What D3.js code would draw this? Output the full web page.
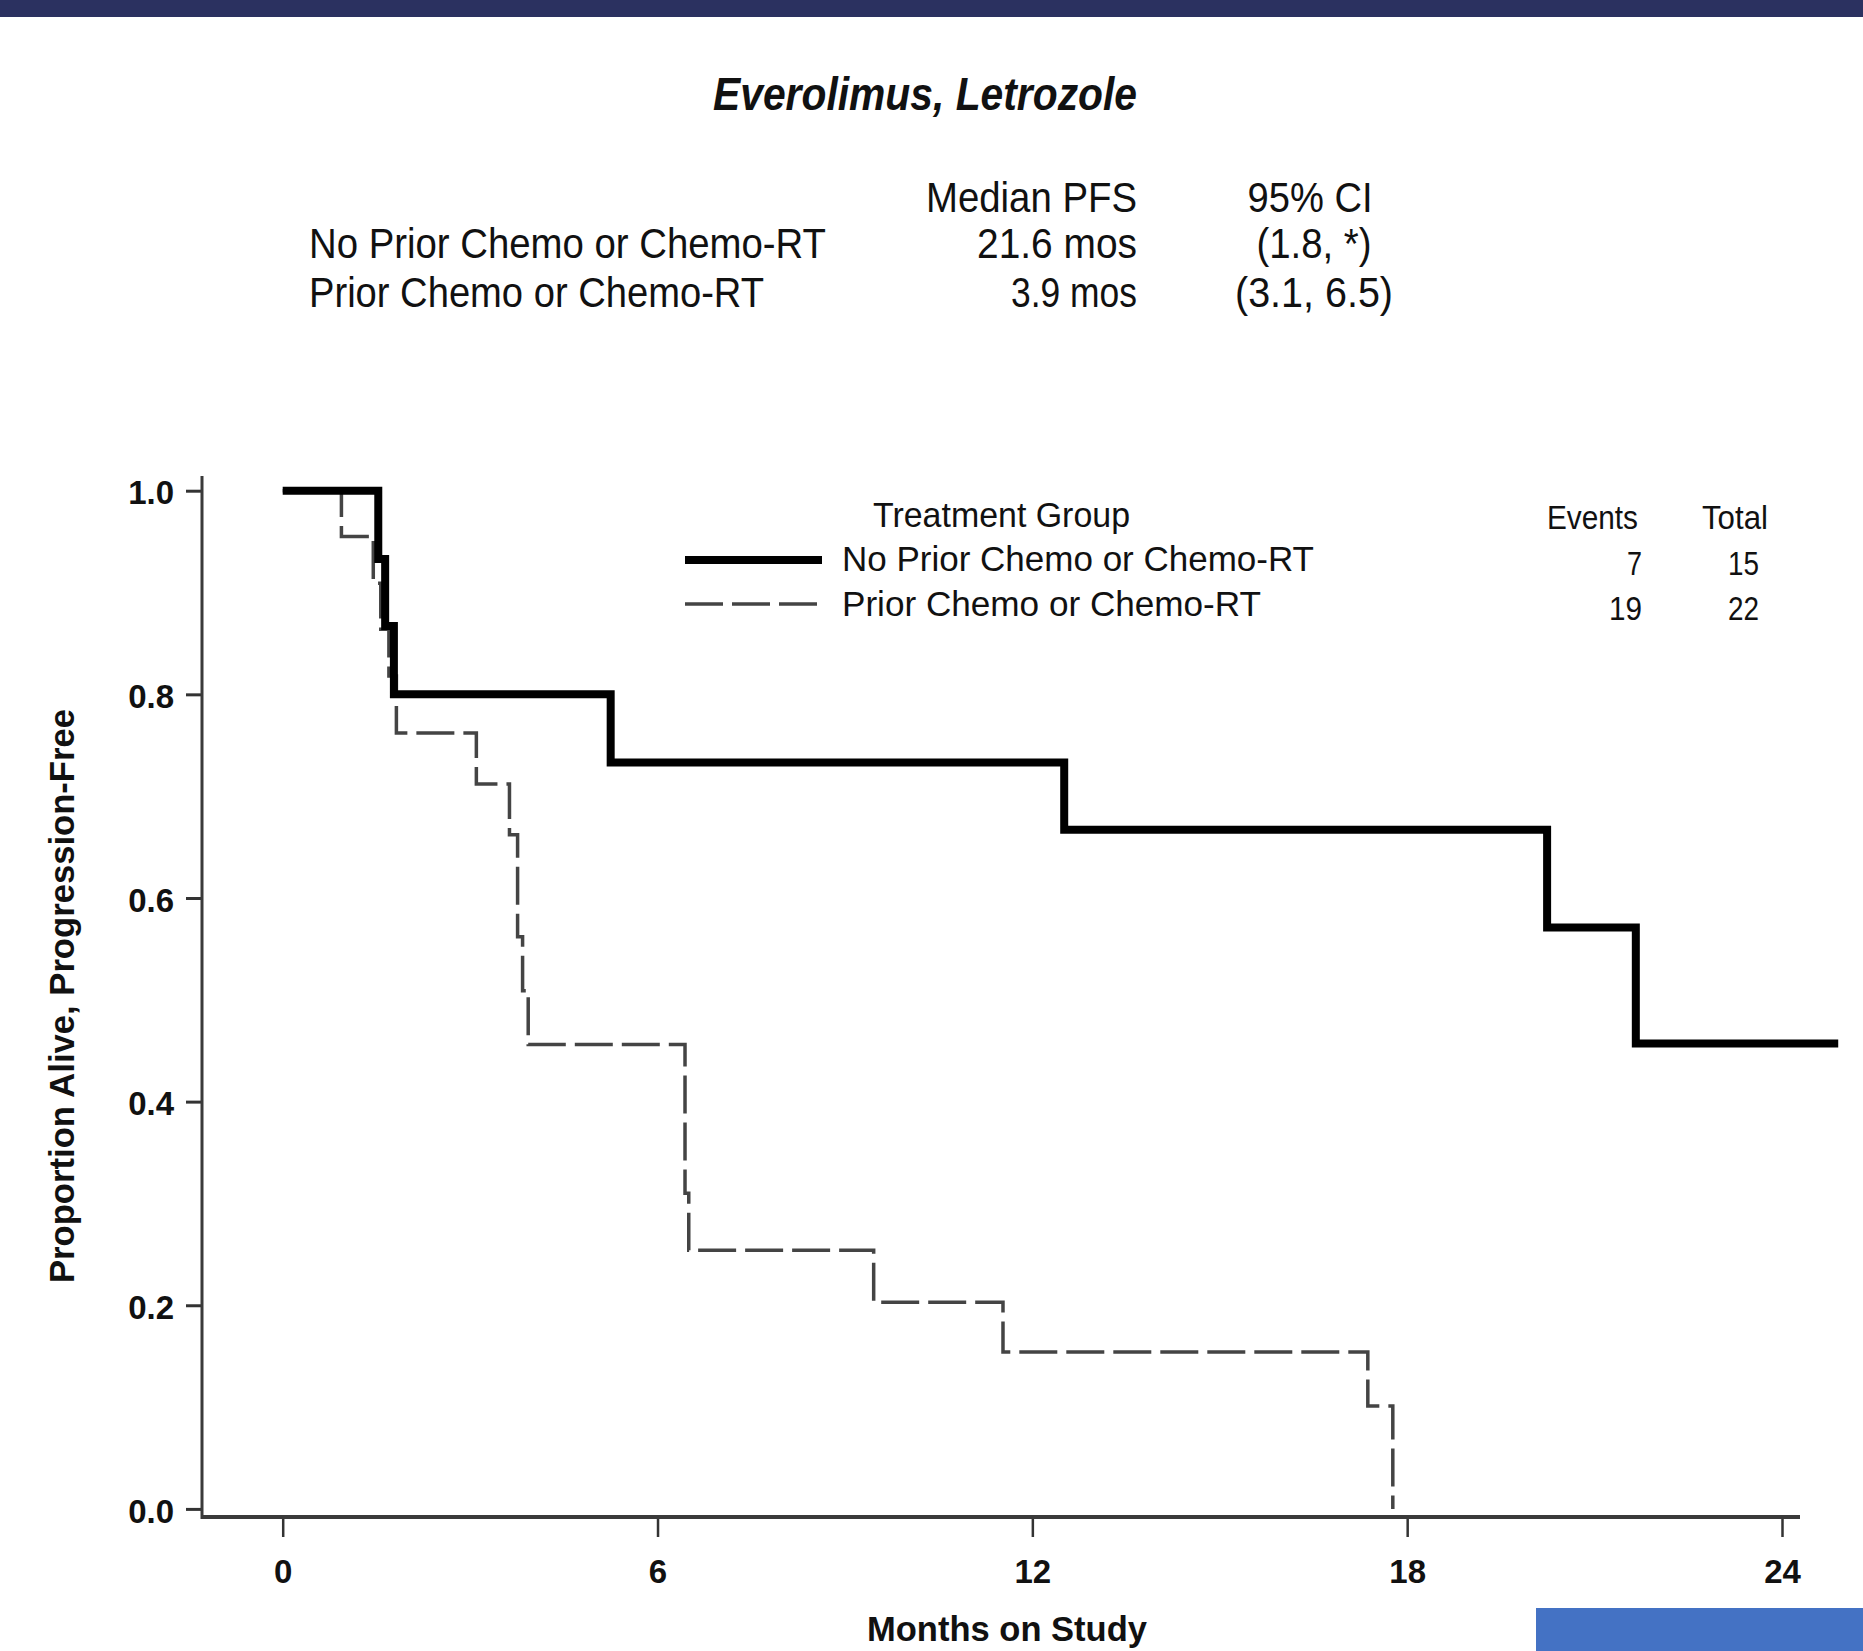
<!DOCTYPE html>
<html>
<head>
<meta charset="utf-8">
<script src="https://cdn.jsdelivr.net/npm/d3@7"></script>
<style>
  html, body { margin: 0; padding: 0; background: #ffffff; }
  svg { display: block; font-family: "Liberation Sans", Arial, sans-serif; }
</style>
</head>
<body>
<svg id="chart" width="1863" height="1651"></svg>
<script>
// ---------------- DATA ----------------
const chartTitle = "Everolimus, Letrozole";
const groups = ["No Prior Chemo or Chemo-RT", "Prior Chemo or Chemo-RT"];
const medianPFS = ["21.6 mos", "3.9 mos"];
const ci95 = ["(1.8, *)", "(3.1, 6.5)"];
const events = [7, 19];
const totals = [15, 22];

// Kaplan-Meier step curves (months, proportion alive & progression-free)
const noPriorMonths = [0, 1.53, 1.64, 1.78, 5.25, 12.51, 20.24, 21.66, 24.9];
const noPriorSurv   = [1.0, 0.933, 0.867, 0.800, 0.733, 0.667, 0.571, 0.457, 0.457];
const priorMonths = [0, 0.94, 1.45, 1.57, 1.70, 1.82, 3.10, 3.63, 3.76, 3.84, 3.93, 6.44, 6.50, 9.46, 11.53, 17.37, 17.77];
const priorSurv   = [1.0, 0.955, 0.909, 0.864, 0.818, 0.762, 0.712, 0.662, 0.562, 0.509, 0.456, 0.310, 0.254, 0.203, 0.154, 0.101, 0.0];

const xTicks = [0, 6, 12, 18, 24];
const yTicks = [0.0, 0.2, 0.4, 0.6, 0.8, 1.0];
const xTitle = "Months on Study";
const yTitle = "Proportion Alive, Progression-Free";
const legendTitle = "Treatment Group";

// ---------------- LAYOUT ----------------
const svg = d3.select("#chart");
const FONT = '"Liberation Sans", Arial, sans-serif';

const x = d3.scaleLinear().domain([0, 24]).range([282.7, 1782]);
const y = d3.scaleLinear().domain([0, 1]).range([1508.9, 490.7]);
const axisX0 = 202, axisY0 = 1517;

function txt(str, xp, yp, opt) {
  const t = svg.append("text")
    .attr("x", xp).attr("y", yp)
    .attr("font-family", FONT)
    .attr("font-size", opt.size)
    .attr("font-weight", opt.weight || "normal")
    .attr("font-style", opt.style || "normal")
    .attr("text-anchor", opt.anchor || "start")
    .attr("fill", opt.fill || "#111")
    .text(str);
  if (opt.len) t.attr("textLength", opt.len).attr("lengthAdjust", "spacingAndGlyphs");
  return t;
}

// top banner
svg.append("rect").attr("x", 0).attr("y", 0).attr("width", 1863).attr("height", 17).attr("fill", "#2b3160");

// title
txt(chartTitle, 713, 110, {size: 47, weight: "bold", style: "italic", len: 424});

// summary table
txt("Median PFS", 1137, 212, {size: 43, anchor: "end", len: 211});
txt("95% CI", 1310, 212, {size: 43, anchor: "middle", len: 125});
const tableRows = [258, 307];
const tableLens = [517, 455];
const medLens = [160, 126];
const ciLens = [115, 158];
groups.forEach((g, i) => {
  txt(g, 309, tableRows[i], {size: 43, len: tableLens[i]});
  txt(medianPFS[i], 1137, tableRows[i], {size: 43, anchor: "end", len: medLens[i]});
  txt(ci95[i], 1314, tableRows[i], {size: 43, anchor: "middle", len: ciLens[i]});
});

// ---------------- AXES ----------------
const gx = svg.append("g").attr("transform", `translate(0,${axisY0})`)
  .call(d3.axisBottom(x).tickValues(xTicks).tickSize(20).tickPadding(23).tickFormat(d3.format("d")));
gx.select(".domain").remove();
gx.selectAll(".tick line").attr("stroke", "#333").attr("stroke-width", 2.5);
gx.selectAll(".tick text").attr("font-family", FONT).attr("font-size", 33).attr("font-weight", "bold").attr("fill", "#111");

const gy = svg.append("g").attr("transform", `translate(${axisX0},0)`)
  .call(d3.axisLeft(y).tickValues(yTicks).tickSize(16).tickPadding(12).tickFormat(d3.format(".1f")));
gy.select(".domain").remove();
gy.selectAll(".tick line").attr("stroke", "#333").attr("stroke-width", 3);
gy.selectAll(".tick text").attr("font-family", FONT).attr("font-size", 33).attr("font-weight", "bold").attr("fill", "#111").attr("dy", "0.4em");

// axis lines
svg.append("line").attr("x1", axisX0).attr("x2", axisX0).attr("y1", 476).attr("y2", axisY0 + 2)
  .attr("stroke", "#3a3a3a").attr("stroke-width", 3);
svg.append("line").attr("x1", axisX0).attr("x2", 1800).attr("y1", axisY0).attr("y2", axisY0)
  .attr("stroke", "#3a3a3a").attr("stroke-width", 4);

// axis titles
txt(xTitle, 1007, 1641, {size: 35, weight: "bold", anchor: "middle", len: 280});
svg.append("text")
  .attr("transform", `translate(74,996) rotate(-90)`)
  .attr("font-family", FONT).attr("font-size", 35).attr("font-weight", "bold")
  .attr("text-anchor", "middle").attr("fill", "#111")
  .attr("textLength", 574).attr("lengthAdjust", "spacingAndGlyphs")
  .text(yTitle);

// ---------------- CURVES ----------------
const line = d3.line().x(d => x(d[0])).y(d => y(d[1])).curve(d3.curveStepAfter);
const noPriorData = noPriorMonths.map((m, i) => [m, noPriorSurv[i]]);
const priorData = priorMonths.map((m, i) => [m, priorSurv[i]]);

svg.append("path").attr("d", line(priorData))
  .attr("fill", "none").attr("stroke", "#444").attr("stroke-width", 3.5)
  .attr("stroke-dasharray", "38,9");
svg.append("path").attr("d", line(noPriorData))
  .attr("fill", "none").attr("stroke", "#000").attr("stroke-width", 8)
  .attr("stroke-linejoin", "miter");

// ---------------- LEGEND ----------------
txt(legendTitle, 873, 527, {size: 35, len: 257});
txt("Events", 1547, 529, {size: 33, len: 91});
txt("Total", 1702, 529, {size: 33, len: 66});

const legRows = [571, 616];
const legLens = [472, 419];
svg.append("line").attr("x1", 685).attr("x2", 822).attr("y1", 560).attr("y2", 560)
  .attr("stroke", "#000").attr("stroke-width", 8);
svg.append("line").attr("x1", 685).attr("x2", 817).attr("y1", 604).attr("y2", 604)
  .attr("stroke", "#444").attr("stroke-width", 3.5).attr("stroke-dasharray", "38,9");
groups.forEach((g, i) => {
  txt(g, 842, legRows[i], {size: 35, len: legLens[i]});
  txt(String(events[i]), 1642, legRows[i] + 4, {size: 33, anchor: "end", len: events[i] < 10 ? 15 : 33});
  txt(String(totals[i]), 1759, legRows[i] + 4, {size: 33, anchor: "end", len: 31});
});

// bottom-right slide element
svg.append("rect").attr("x", 1536).attr("y", 1608).attr("width", 327).attr("height", 43).attr("fill", "#4472c4");
</script>
</body>
</html>
